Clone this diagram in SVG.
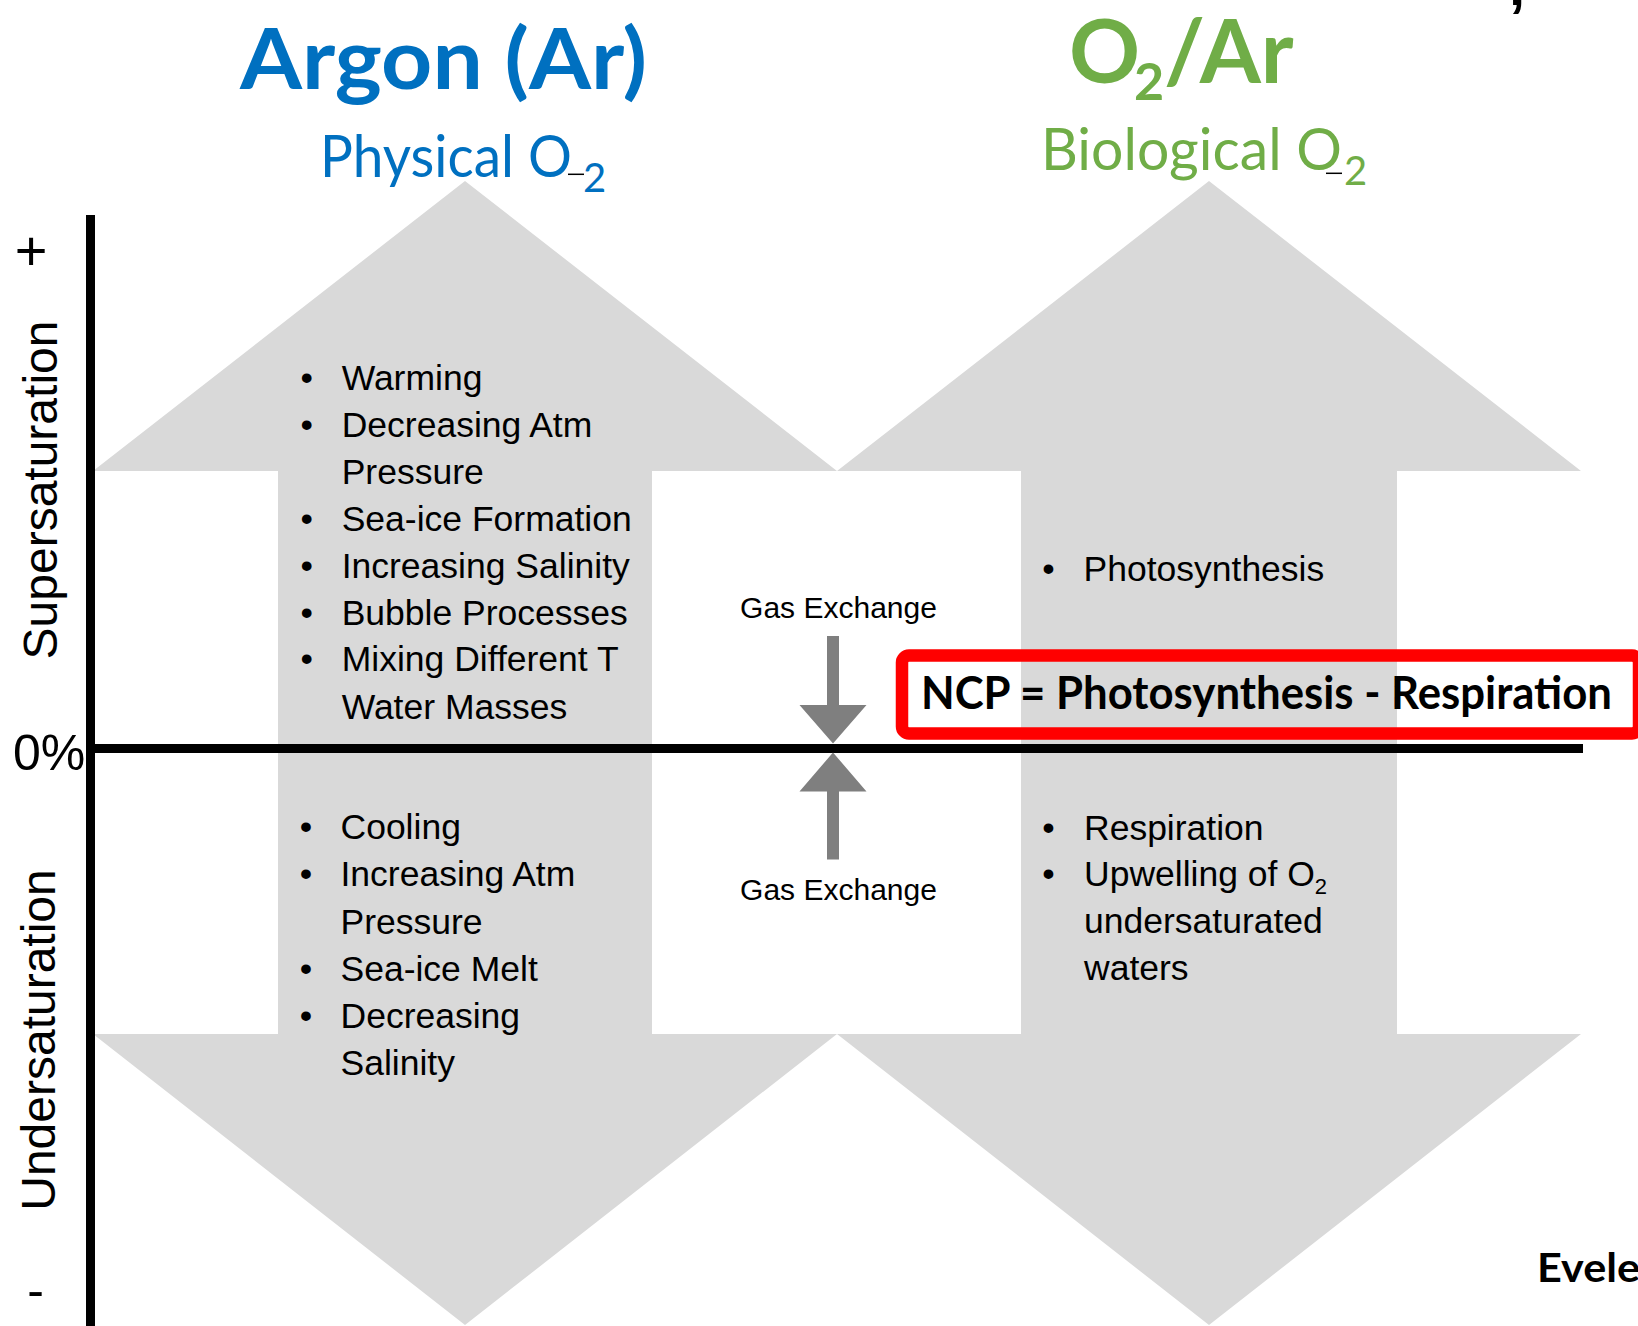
<svg xmlns="http://www.w3.org/2000/svg" width="1638" height="1326" viewBox="0 0 1638 1326">
  <style>
    .sans { font-family: 'Liberation Sans', Arial, sans-serif; }
    .cal { font-family: Lato, 'Liberation Sans', sans-serif; }
    .item { font-family: 'Liberation Sans', Arial, sans-serif; font-size: 35.5px; fill: #000; }
    .bul { font-family: 'Liberation Sans', Arial, sans-serif; font-size: 35.5px; fill: #000; text-anchor: middle; }
    .big { fill: #d9d9d9; }
    .gx { fill: #7f7f7f; }
    .axis { stroke: #000; stroke-width: 9; fill: none; }
    .gxlabel { font-family: 'Liberation Sans', Arial, sans-serif; font-size: 30px; fill: #000; text-anchor: middle; }
  </style>
  <rect width="1638" height="1326" fill="#ffffff"/>

  <!-- Argon column: double-headed gray arrow -->
  <g id="argon-column">
    <polygon class="big" points="465,181 837,471 652,471 652,1034 837,1034 465,1325 93,1034 278,1034 278,471 93,471"/>
    <text class="cal" x="240" y="89" font-size="85" font-weight="700" fill="#0070c0" textLength="407" lengthAdjust="spacingAndGlyphs">Argon (Ar)</text>
    <text class="cal" x="320" y="177" font-size="58" fill="#0070c0" textLength="252" lengthAdjust="spacingAndGlyphs">Physical O</text>
    <text class="cal" x="583" y="192" font-size="40" fill="#0070c0">2</text>
    <line x1="568" y1="174.3" x2="584" y2="174.3" stroke="#000" stroke-width="1.5"/>
    <g id="argon-super-list">
      <text class="bul" x="306.7" y="390">•</text><text class="item" x="341.7" y="390">Warming</text>
      <text class="bul" x="306.7" y="436.9">•</text><text class="item" x="341.7" y="436.9">Decreasing Atm</text>
      <text class="item" x="341.7" y="483.8">Pressure</text>
      <text class="bul" x="306.7" y="530.7">•</text><text class="item" x="341.7" y="530.7">Sea-ice Formation</text>
      <text class="bul" x="306.7" y="577.6">•</text><text class="item" x="341.7" y="577.6">Increasing Salinity</text>
      <text class="bul" x="306.7" y="624.5">•</text><text class="item" x="341.7" y="624.5">Bubble Processes</text>
      <text class="bul" x="306.7" y="671.4">•</text><text class="item" x="341.7" y="671.4">Mixing Different T</text>
      <text class="item" x="341.7" y="719.3">Water Masses</text>
    </g>
    <g id="argon-under-list">
      <text class="bul" x="306" y="839.2">•</text><text class="item" x="340.5" y="839.2">Cooling</text>
      <text class="bul" x="306" y="886.4">•</text><text class="item" x="340.5" y="886.4">Increasing Atm</text>
      <text class="item" x="340.5" y="933.6">Pressure</text>
      <text class="bul" x="306" y="980.8">•</text><text class="item" x="340.5" y="980.8">Sea-ice Melt</text>
      <text class="bul" x="306" y="1028">•</text><text class="item" x="340.5" y="1028">Decreasing</text>
      <text class="item" x="340.5" y="1075.2">Salinity</text>
    </g>
  </g>

  <!-- O2/Ar column -->
  <g id="o2ar-column">
    <polygon class="big" points="1209,181 1581,471 1397,471 1397,1034 1581,1034 1209,1325 837,1034 1021,1034 1021,471 837,471"/>
    <text class="cal" x="1069" y="83" font-size="88" font-weight="700" fill="#70ad47">O</text>
    <text class="cal" x="1134" y="100" font-size="52" font-weight="700" fill="#70ad47">2</text>
    <text class="cal" x="1164" y="83" font-size="88" font-weight="700" fill="#70ad47">/Ar</text>
    <text class="cal" x="1041" y="170" font-size="58" fill="#70ad47" textLength="301" lengthAdjust="spacingAndGlyphs">Biological O</text>
    <text class="cal" x="1344" y="185" font-size="40" fill="#70ad47">2</text>
    <line x1="1326" y1="173.3" x2="1342" y2="173.3" stroke="#000" stroke-width="1.5"/>
    <g id="o2ar-super-list">
      <text class="bul" x="1048.5" y="580.5">•</text><text class="item" x="1083.5" y="580.5">Photosynthesis</text>
    </g>
    <g id="o2ar-under-list">
      <text class="bul" x="1048.5" y="840">•</text><text class="item" x="1084" y="840">Respiration</text>
      <text class="bul" x="1048.5" y="885.5">•</text><text class="item" x="1084" y="885.5">Upwelling of O<tspan font-size="22" dy="8">2</tspan></text>
      <text class="item" x="1084" y="932.5">undersaturated</text>
      <text class="item" x="1084" y="979.5">waters</text>
    </g>
  </g>

  <!-- Axes -->
  <g id="axes">
    <line class="axis" x1="90.5" y1="215" x2="90.5" y2="1326"/>
    <line class="axis" x1="86" y1="748.5" x2="1583" y2="748.5"/>
    <text class="sans" x="31" y="270" font-size="56" text-anchor="middle">+</text>
    <text class="sans" x="13" y="770" font-size="50">0%</text>
    <text class="sans" x="35.5" y="1307" font-size="50" text-anchor="middle">-</text>
    <text class="sans" font-size="48" text-anchor="middle" transform="translate(57,490) rotate(-90)">Supersaturation</text>
    <text class="sans" font-size="48" text-anchor="middle" transform="translate(55,1040) rotate(-90)">Undersaturation</text>
  </g>

  <!-- Gas exchange connectors -->
  <g id="connectors">
    <polygon class="gx" points="827,636 839,636 839,705 866.5,705 833,743.5 799.5,705 827,705"/>
    <polygon class="gx" points="827,859.5 839,859.5 839,791.5 866.5,791.5 833,752.5 799.5,791.5 827,791.5"/>
    <text class="gxlabel" x="838.5" y="618">Gas Exchange</text>
    <text class="gxlabel" x="838.5" y="900">Gas Exchange</text>
  </g>

  <!-- NCP box -->
  <g id="ncp-box">
    <rect x="902" y="655.5" width="737" height="78" rx="7" ry="7" fill="none" stroke="#ff0000" stroke-width="12.5"/>
    <text class="cal" x="921" y="708.5" font-size="46" font-weight="700" fill="#000" textLength="691" lengthAdjust="spacingAndGlyphs">NCP = Photosynthesis - Respiration</text>
  </g>

  <!-- Cut-off citation fragments -->
  <g id="citation">
    <text class="cal" x="1537" y="1282" font-size="41" font-weight="700" fill="#000" textLength="103" lengthAdjust="spacingAndGlyphs">Evele</text>
    <text class="sans" x="1509" y="5" font-size="58" font-weight="700" fill="#000">,</text>
  </g>
</svg>
